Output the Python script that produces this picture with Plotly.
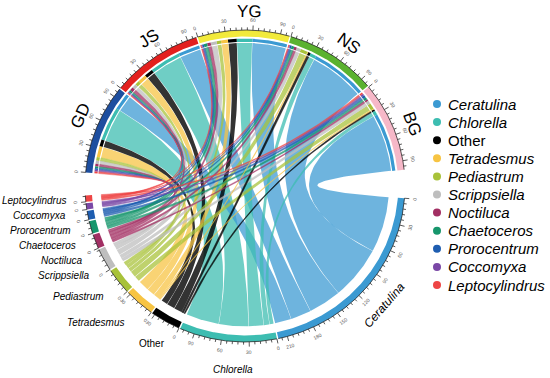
import numpy as np
import plotly.graph_objects as go

# ---------------- data ----------------
sites = ["GD", "JS", "YG", "NS", "BG"]
genera = ["Ceratulina", "Chlorella", "Other", "Tetradesmus", "Pediastrum",
          "Scrippsiella", "Noctiluca", "Chaetoceros", "Prorocentrum",
          "Coccomyxa", "Leptocylindrus"]
# relative abundance (%) of each genus at each site (columns follow `genera`)
GD = [20, 40, 8, 13, 4, 4, 3, 2, 2, 2, 2]
JS = [25, 36, 10, 10, 5, 5, 4, 2, 1, 1, 1]
YG = [40, 18, 10, 8, 5, 7, 4, 4, 2, 1, 1]
NS = [66, 7, 3, 1, 8, 5, 3, 3, 2, 1, 1]
BG = [69, 5, 2, 1, 7, 4, 2, 3, 3, 2, 2]
major_step = 30
minor_step = 6

# ---------------- styles ----------------
site_colors = ["#1D4E9F", "#E3201E", "#F2EA3B", "#5BB22F", "#F6B8C8"]
genus_colors = ["#3B9AD2", "#3DBDB1", "#000000", "#F7C443", "#A8C23A",
                "#BEBEBE", "#A22F63", "#17966C", "#1E5DB0", "#7A48A6", "#EE4545"]
italic = [True, True, False, True, True, True, True, True, True, True, True]
FONT = "Liberation Sans, Arial, sans-serif"

W, H = 550, 378
CX, CY, RX, RY = 245, 186, 160, 156
DEG = 0.334       # degrees per unit
GAP = 0.5         # small gap between sectors (deg)
TOP0 = 175.0      # start angle of the site half
BOT0 = -4.5       # start angle of the genus half
R_OUT1, R_OUT0 = 1.0, 0.958
R_PR1, R_PR0 = 0.945, 0.925
RS, RT = 0.918, 0.900
SEP = 0.07        # tiny white separation at each ribbon end (deg)

matrix = np.array([GD, JS, YG, NS, BG], dtype=float)
ns, ng = matrix.shape


def px2data(px, py):
    return (px - CX) / RX, (CY - py) / RY


def layout(totals, start):
    spans, th = [], start
    for t in totals:
        spans.append((th, th - t * DEG))
        th = th - t * DEG - GAP
    return spans


site_tot = matrix.sum(axis=1)
gen_tot = matrix.sum(axis=0)
site_span = layout(site_tot, TOP0)
gen_span = layout(gen_tot, BOT0)

src, tgt = {}, {}
for i in range(ns):
    pos = site_span[i][0]
    for j in reversed(range(ng)):
        src[(i, j)] = (pos, pos - matrix[i, j] * DEG)
        pos -= matrix[i, j] * DEG
for j in range(ng):
    pos = gen_span[j][0]
    for i in reversed(range(ns)):
        tgt[(i, j)] = (pos, pos - matrix[i, j] * DEG)
        pos -= matrix[i, j] * DEG


def arc(r, t1, t2):
    n = max(2, int(abs(t2 - t1) * 3) + 2)
    th = np.radians(np.linspace(t1, t2, n))
    return np.column_stack([r * np.cos(th), r * np.sin(th)])


def pt(r, t):
    t = np.radians(t)
    return np.array([r * np.cos(t), r * np.sin(t)])


def bez(p0, p2, n=60):
    t = np.linspace(0, 1, n)[:, None]
    return (1 - t) ** 2 * p0 + t ** 2 * p2


def annulus(r0, r1, t1, t2):
    a = arc(r1, t1, t2)
    b = arc(r0, t2, t1)
    p = np.vstack([a, b, a[:1]])
    return p[:, 0], p[:, 1]


def rgba(hexc, a):
    h = hexc.lstrip("#")
    return "rgba(%d,%d,%d,%.2f)" % (int(h[0:2], 16), int(h[2:4], 16), int(h[4:6], 16), a)


fig = go.Figure()

# ---------------- ribbons ----------------
links = [(matrix[i, j], i, j) for i in range(ns) for j in range(ng) if matrix[i, j] > 0]
links.sort(key=lambda z: -z[0])
for v, i, j in links:
    a1, a2 = src[(i, j)]
    b1, b2 = tgt[(i, j)]
    big = v >= 5
    if big:
        a1, a2, b1, b2 = a1 - SEP, a2 + SEP, b1 - SEP, b2 + SEP
    poly = np.vstack([
        arc(RS, a1, a2),
        bez(pt(RS, a2), pt(RT, b1)),
        arc(RT, b1, b2),
        bez(pt(RT, b2), pt(RS, a1)),
    ])
    alpha = 0.8 if genera[j] == "Other" else 0.74
    col = rgba(genus_colors[j], alpha)
    fig.add_trace(go.Scatter(x=poly[:, 0], y=poly[:, 1], mode="lines", fill="toself",
                             fillcolor=col, line=dict(color=col, width=0 if big else 0.5),
                             hoverinfo="skip", showlegend=False))

# ---------------- outer rings ----------------
for i in range(ns):
    x, y = annulus(R_OUT0, R_OUT1, *site_span[i])
    fig.add_trace(go.Scatter(x=x, y=y, mode="lines", fill="toself", fillcolor=site_colors[i],
                             line=dict(width=0), hoverinfo="skip", showlegend=False))
    for j in range(ng):
        if matrix[i, j] <= 0:
            continue
        x, y = annulus(R_PR0, R_PR1, *src[(i, j)])
        fig.add_trace(go.Scatter(x=x, y=y, mode="lines", fill="toself", fillcolor=genus_colors[j],
                                 line=dict(width=0), hoverinfo="skip", showlegend=False))
for j in range(ng):
    x, y = annulus(R_OUT0, R_OUT1, *gen_span[j])
    fig.add_trace(go.Scatter(x=x, y=y, mode="lines", fill="toself", fillcolor=genus_colors[j],
                             line=dict(width=0), hoverinfo="skip", showlegend=False))

# ---------------- ticks ----------------
def nice_angle(theta):
    ang = 90 - theta
    ang = (ang + 180) % 360 - 180
    if ang > 90:
        ang -= 180
    if ang < -90:
        ang += 180
    return ang


annotations = []
tx, ty = [], []
for spans, tots in ((site_span, site_tot), (gen_span, gen_tot)):
    for (s0, s1), tot in zip(spans, tots):
        a = arc(R_OUT1, s0, s1)
        tx += list(a[:, 0]) + [None]
        ty += list(a[:, 1]) + [None]
        for v in range(0, int(tot) + 1, minor_step):
            th = s0 - v * DEG
            major = v % major_step == 0
            L = 0.03 if major else 0.017
            p0, p1 = pt(R_OUT1, th), pt(R_OUT1 + L, th)
            tx += [p0[0], p1[0], None]
            ty += [p0[1], p1[1], None]
        for v in range(0, int(tot) + 1, major_step):
            th = s0 - v * DEG
            p = pt(1.063, th)
            annotations.append(dict(x=p[0], y=p[1], text=str(v), showarrow=False,
                                    textangle=nice_angle(th),
                                    font=dict(family=FONT, size=5, color="#555555"),
                                    xanchor="center", yanchor="middle"))
fig.add_trace(go.Scatter(x=tx, y=ty, mode="lines", line=dict(color="#111111", width=0.7),
                         hoverinfo="skip", showlegend=False))

# ---------------- sector labels ----------------
SITE_LABEL_DTH = -2.0
for i, name in enumerate(sites):
    th = (site_span[i][0] + site_span[i][1]) / 2 + SITE_LABEL_DTH
    p = pt(1.12, th)
    annotations.append(dict(x=p[0], y=p[1], text=name, showarrow=False,
                            textangle=nice_angle(th),
                            font=dict(family=FONT, size=17, color="#000000"),
                            xanchor="center", yanchor="middle"))

# genus labels: Ceratulina bent along the circle, Chlorella / Other centred,
# the small genera on the left pushed apart downwards and right-aligned
label_mode = ["tangent", "center", "center", "right", "right", "right", "right",
              "right", "right", "right", "right"]
label_r = [1.16, 1.18, 1.165, 1.15, 1.125, 1.115, 1.105, 1.11, 1.11, 1.12, 1.11]
label_dth = [0, 2.5, 0, 1.0, 1.5, 0, 0, 0, 0, 0, 0]
left = [j for j in range(ng) if label_mode[j] == "right"]
mid_y = {}
for j in left:
    th = (gen_span[j][0] + gen_span[j][1]) / 2 + label_dth[j]
    mid_y[j] = CY - label_r[j] * RY * np.sin(np.radians(th))
left_sorted = sorted(left, key=lambda j: mid_y[j])  # top first
MIN_GAP = 15.0
label_pos = {}
prev = None
for j in left_sorted:
    yv = mid_y[j] if prev is None else max(mid_y[j], prev + MIN_GAP)
    prev = yv
    s = np.clip((CY - yv) / (label_r[j] * RY), -1, 1)
    th = -180 - np.degrees(np.arcsin(s))
    label_pos[j] = pt(label_r[j], th)

for j, name in enumerate(genera):
    th = (gen_span[j][0] + gen_span[j][1]) / 2 + label_dth[j]
    p = label_pos.get(j, pt(label_r[j], th))
    txt = "<i>%s</i>" % name if italic[j] else name
    if label_mode[j] == "tangent":
        annotations.append(dict(x=p[0], y=p[1], text=txt, showarrow=False,
                                textangle=nice_angle(th),
                                font=dict(family=FONT, size=12, color="#000000"),
                                xanchor="center", yanchor="middle"))
    else:
        annotations.append(dict(x=p[0], y=p[1], text=txt, showarrow=False,
                                font=dict(family=FONT, size=10, color="#000000"),
                                xanchor=label_mode[j], yanchor="middle"))

# ---------------- legend (drawn) ----------------
leg_x, leg_y0, leg_dy = 437, 104, 18.1
lx, ly = [], []
for j, name in enumerate(genera):
    x, y = px2data(leg_x, leg_y0 + j * leg_dy)
    lx.append(x)
    ly.append(y)
    xt, _ = px2data(leg_x + 9, 0)
    txt = "<i>%s</i>" % name if italic[j] else name
    annotations.append(dict(x=xt, y=y, text=txt, showarrow=False,
                            font=dict(family=FONT, size=15, color="#000000"),
                            xanchor="left", yanchor="middle"))
fig.add_trace(go.Scatter(x=lx, y=ly, mode="markers",
                         marker=dict(color=genus_colors, size=8, line=dict(width=0)),
                         hoverinfo="skip", showlegend=False))

x0, _ = px2data(0, 0)
x1, _ = px2data(W, 0)
_, y1 = px2data(0, 0)
_, y0 = px2data(0, H)
fig.update_layout(
    width=W, height=H, margin=dict(l=0, r=0, t=0, b=0),
    paper_bgcolor="white", plot_bgcolor="white",
    xaxis=dict(range=[x0, x1], visible=False, fixedrange=True),
    yaxis=dict(range=[y0, y1], visible=False, fixedrange=True),
    annotations=annotations, showlegend=False,
)
fig.write_html("out.html", config={"displayModeBar": False},
               post_script="document.body.style.margin='0px';document.body.style.overflow='hidden';")
